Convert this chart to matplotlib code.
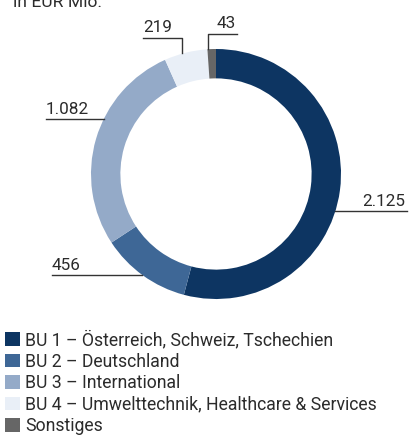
import numpy as np
import matplotlib.pyplot as plt
from matplotlib.patches import Patch

plt.rcParams['font.family'] = ['Roboto', 'DejaVu Sans']

categories = ['BU 1 – Österreich, Schweiz, Tschechien',
              'BU 2 – Deutschland',
              'BU 3 – International',
              'BU 4 – Umwelttechnik, Healthcare & Services',
              'Sonstiges']
values = [2125, 456, 1082, 219, 43]
value_labels = ['2.125', '456', '1.082', '219', '43']
colors = ['#0d3562', '#3e6796', '#94aac8', '#e9eff7', '#666666']

W, H = 409, 437
fig = plt.figure(figsize=(W / 100, H / 100), dpi=100)

# donut, placed in pixel terms
cx, cy, R = 216, 174, 125
ax = fig.add_axes([(cx - R) / W, (H - cy - R) / H, 2 * R / W, 2 * R / H])
ax.pie(values, colors=colors, startangle=90, counterclock=False, radius=1,
       wedgeprops=dict(width=0.235, linewidth=0))
ax.set_xlim(-1, 1)
ax.set_ylim(-1, 1)
ax.set_aspect('equal')
ax.axis('off')

# overlay in pixel coords for labels / leader lines
ov = fig.add_axes([0, 0, 1, 1])
ov.set_xlim(0, W)
ov.set_ylim(H, 0)
ov.axis('off')
ov.patch.set_alpha(0)

txt = '#2b2b2b'
fs = 12.3
ov.text(13, 7, 'in EUR Mio.', fontsize=12.6, color=txt, va='baseline', ha='left')


def ring_x(y, side):
    dx = np.sqrt(max(R ** 2 - (y - cy) ** 2, 0))
    return cx + side * dx


# horizontal leaders: (label, line y, outer x, side)
horiz = [(value_labels[0], 211, 407, 1),
         (value_labels[1], 275, 52, -1),
         (value_labels[2], 119, 46, -1)]
for lab, ly, ox, side in horiz:
    ov.plot([ox, ring_x(ly, side)], [ly, ly], color='#333333', lw=1)
    if side > 0:
        ov.text(ox - 2, ly - 5, lab, fontsize=fs, color=txt, ha='right', va='baseline')
    else:
        ov.text(ox, ly - 5, lab, fontsize=fs, color=txt, ha='left', va='baseline')

# elbow leaders at the top
ov.plot([143, 182, 182], [38, 38, 53], color='#333333', lw=1)
ov.text(143, 32, value_labels[3], fontsize=fs, color=txt, ha='left', va='baseline')
ov.plot([237, 208, 208], [34, 34, 49], color='#333333', lw=1)
ov.text(217, 28, value_labels[4], fontsize=fs, color=txt, ha='left', va='baseline')

handles = [Patch(facecolor=c, edgecolor='none') for c in colors]
fig.legend(handles, categories, loc='upper left', bbox_to_anchor=(0.0, 1 - 325 / H),
           frameon=False, fontsize=12.7, handlelength=0.82, handleheight=0.82,
           handletextpad=0.3, labelspacing=0.2, borderaxespad=0, borderpad=0.3,
           labelcolor=txt)

fig.savefig('out.png', dpi=100)
